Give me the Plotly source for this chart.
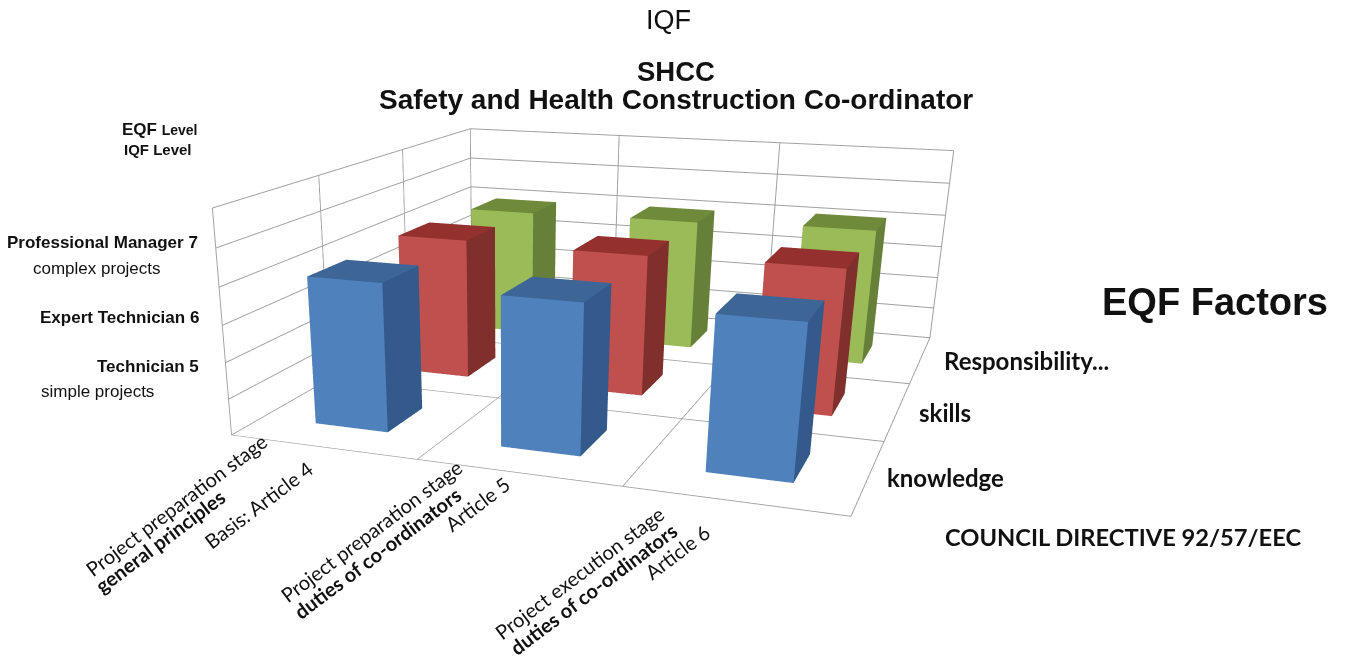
import plotly.graph_objects as go

# ---- data
stage_lines_1 = ["Project preparation stage", "Project preparation stage", "Project execution stage"]
stage_lines_2 = ["general principles", "duties of co-ordinators", "duties of co-ordinators"]
stage_lines_3 = ["Basis: Article 4", "Article 5", "Article 6"]
factors = ["knowledge", "skills", "Responsibility..."]
knowledge = [7.05, 7.0, 7.0]
skills = [7.1, 7.05, 7.1]
responsibility = [6.95, 7.0, 7.1]
level_ticks = [3, 4, 5, 6, 7, 8, 9]
stage_ticks = [0, 1, 2, 3]
factor_ticks = [0, 1, 2, 3]

BLUE = ("#4F81BD", "#335A8A", "#3D6596")
RED = ("#C0504D", "#7F2F2C", "#94312F")
GREEN = ("#9BBB59", "#66803A", "#6F8A3B")
BAR_HALF = 0.2
W, H = 1345, 1176  # canvas is taller than the window: puts the lens axis low, so bars stand upright


def px(x, y):
    return dict(x=x / W, y=1 - y / H, xref="paper", yref="paper", showarrow=False)


fig = go.Figure()


def add_bar(xc, yc, top, cols):
    h = BAR_HALF
    X = [xc - h, xc + h, xc + h, xc - h] * 2
    Y = [yc - h, yc - h, yc + h, yc + h] * 2
    Z = [level_ticks[0]] * 4 + [top] * 4
    i = [0, 0, 1, 1, 4, 4, 0, 0, 2, 2, 3, 3]
    j = [1, 2, 2, 6, 5, 6, 4, 5, 3, 7, 0, 4]
    k = [2, 3, 6, 5, 6, 7, 5, 1, 7, 6, 4, 7]
    fc = [cols[0]] * 2 + [cols[1]] * 2 + [cols[2]] * 2 + [cols[0]] * 2 + [cols[1]] * 4
    fig.add_trace(go.Mesh3d(x=X, y=Y, z=Z, i=i, j=j, k=k, facecolor=fc, flatshading=True, hoverinfo="skip",
                            lighting=dict(ambient=1, diffuse=0, specular=0, fresnel=0, roughness=1)))


for r, (vals, cols) in enumerate(zip([knowledge, skills, responsibility], [BLUE, RED, GREEN])):
    for c, val in enumerate(vals):
        add_bar(c + 0.5, r + 0.5, val, cols)

ax = dict(showbackground=True, backgroundcolor="white", gridcolor="#A0A0A0", gridwidth=2, showticklabels=False,
          title="", zeroline=False, showspikes=False, showline=False, ticks="")
fig.update_layout(
    width=W, height=H, margin=dict(l=0, r=0, t=0, b=0), paper_bgcolor="white", showlegend=False,
    font=dict(family="Liberation Sans", color="#111111"),
    scene=dict(
        domain=dict(x=[22.635 / W, 963.096 / W], y=[0, 1]), aspectmode="manual",
        aspectratio=dict(x=0.9607, y=0.9978, z=0.3502),
        camera=dict(eye=dict(x=0.6859, y=-2.3291, z=0.5385), center=dict(x=-0.2469, y=0.0264, z=-0.6271),
                    up=dict(x=-0.3089, y=0.7942, z=1)),
        xaxis=dict(ax, range=[0, 3], tickvals=stage_ticks),
        yaxis=dict(ax, range=[0, 3], tickvals=factor_ticks),
        zaxis=dict(ax, range=[3, 9], tickvals=level_ticks)))

SANS = "Liberation Sans"
CAL = "Lato"
notes = [
    ("IQF", 668, 20, 27, SANS, "center", 0),
    ("<b>SHCC</b>", 676, 71, 27.5, SANS, "center", 0),
    ("<b>Safety and Health Construction Co-ordinator</b>", 676, 100, 28, SANS, "center", 0),
    ("<b>EQF Factors</b>", 1215, 302, 38, SANS, "center", 0),
    ("<b>COUNCIL DIRECTIVE 92/57/EEC</b>", 943, 537, 23.7, CAL, "left", 0),
    ("<b>" + factors[2] + "</b>", 942, 361, 24, CAL, "left", 0),
    ("<b>" + factors[1] + "</b>", 917, 412, 24, CAL, "left", 0),
    ("<b>" + factors[0] + "</b>", 885, 478, 24, CAL, "left", 0),
    ("<b>EQF <span style='font-size:14px'>Level</span></b>", 199, 129, 17, SANS, "right", 0),
    ("<b>IQF Level</b>", 194, 149, 15, SANS, "right", 0),
    ("<b>Professional Manager 7</b>", 200, 243, 17, SANS, "right", 0),
    ("complex projects", 163, 268, 17, SANS, "right", 0),
    ("<b>Expert Technician 6</b>", 201, 317, 17, SANS, "right", 0),
    ("<b>Technician 5</b>", 201, 366, 17, SANS, "right", 0),
    ("simple projects", 156, 392, 17, SANS, "right", 0),
]
centres_1 = [(176, 505), (371, 531), (579, 573)]
centres_2 = [(160, 541), (377, 553), (593, 589)]
centres_3 = [(258, 505), (477, 504), (677, 552)]
for n in range(3):
    notes.append((stage_lines_1[n], *centres_1[n], 20, CAL, "center", -37))
    notes.append(("<b>" + stage_lines_2[n] + "</b>", *centres_2[n], 20, CAL, "center", -37))
    notes.append((stage_lines_3[n], *centres_3[n], 20, CAL, "center", -37))
for text, x, y, size, fam, anchor, angle in notes:
    fig.add_annotation(text=text, xanchor=anchor, yanchor="middle", textangle=angle,
                       font=dict(size=size, family=fam, color="#111111"), **px(x, y))

fig.write_html("out.html", config=dict(displayModeBar=False),
               post_script="document.body.style.margin='0';document.body.style.overflow='hidden';")
